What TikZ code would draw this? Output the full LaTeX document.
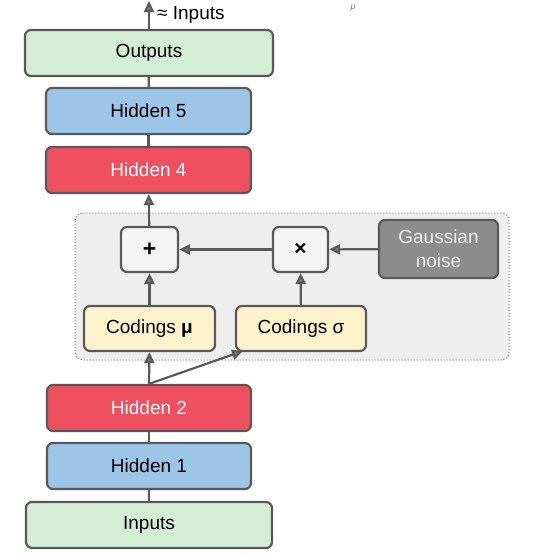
\documentclass[tikz,border=0pt]{standalone}
\usepackage{fontspec}
\setmainfont{Liberation Sans}
\usetikzlibrary{arrows.meta,backgrounds}
\definecolor{lgreen}{HTML}{D4EDD4}
\definecolor{lblue}{HTML}{9CC5E8}
\definecolor{lred}{HTML}{EF5060}
\definecolor{lyellow}{HTML}{FEF2CC}
\definecolor{lwhite}{HTML}{F4F4F4}
\definecolor{noisegray}{HTML}{8C8C8C}
\definecolor{edgegray}{HTML}{595959}
\definecolor{groupbg}{HTML}{EEEEEE}
\begin{document}
\begin{tikzpicture}[x=1pt,y=-1pt,
  box/.style={draw=edgegray,line width=2.2pt,rounded corners=6pt,inner sep=0pt,
    font=\fontsize{19}{24}\selectfont,align=center},
  conn/.style={draw=edgegray,line width=2.2pt},
  arr/.style={conn,-{Triangle[length=11pt,width=10pt,fill=gray]}}]
\useasboundingbox (0,0) rectangle (550,557);
\fill[white] (0,0) rectangle (550,557);
% group
\draw[fill=groupbg,draw=gray,dotted,line width=1pt,rounded corners=8pt] (75,213) rectangle (509,360);
% nodes
\node[box,fill=lgreen,minimum width=248pt,minimum height=46pt] (out) at (149,53) {Outputs};
\node[box,fill=lblue,minimum width=205pt,minimum height=46pt] (h5) at (148.5,111) {Hidden 5};
\node[box,fill=lred,text=white,minimum width=205pt,minimum height=46pt] (h4) at (148.5,170) {Hidden 4};
\node[box,fill=lwhite,minimum width=57pt,minimum height=45pt,font=\fontsize{23}{24}\selectfont\bfseries] (plus) at (149.5,249.5) {+};
\node[box,fill=lwhite,minimum width=55pt,minimum height=45pt,font=\fontsize{21}{22}\selectfont\bfseries] (times) at (300.5,249.5) {×};
\node[box,fill=noisegray,text=groupbg,minimum width=119pt,minimum height=58pt] (noise) at (438.5,249) {Gaussian\\noise};
\node[box,fill=lyellow,minimum width=131pt,minimum height=45pt] (cmu) at (149.5,328.5) {Codings \textbf{μ}};
\node[box,fill=lyellow,minimum width=130pt,minimum height=45pt] (csig) at (301,328.5) {Codings σ};
\node[box,fill=lred,text=white,minimum width=204pt,minimum height=46pt] (h2) at (149,408) {Hidden 2};
\node[box,fill=lblue,minimum width=204pt,minimum height=46pt] (h1) at (149,466) {Hidden 1};
\node[box,fill=lgreen,minimum width=246pt,minimum height=46pt] (in) at (149,525) {Inputs};
\coordinate (top) at (149,1);
\node[anchor=west,inner sep=0pt,font=\fontsize{19}{20}\selectfont] (approx) at (157,15) {≈ Inputs};
\node[inner sep=0pt,font=\fontsize{9}{10}\selectfont\itshape,text=gray] (mu) at (353,8) {μ};
\coordinate (csigin) at (243,351);
% connectors
\draw[conn] (in) -- (h1);
\draw[conn] (h1) -- (h2);
\draw[arr] (h2.north) -- (cmu.south);
\draw[arr] (h2.north) -- (csigin);
\draw[arr] (cmu) -- (plus);
\draw[arr] (csig) -- (times);
\draw[arr] (noise) -- (times);
\draw[arr] (times) -- (plus);
\draw[arr] (plus) -- (h4);
\draw[conn] (h4) -- (h5);
\draw[conn] (h5) -- (out);
\draw[arr] (out.north) -- (top);
\end{tikzpicture}
\end{document}
